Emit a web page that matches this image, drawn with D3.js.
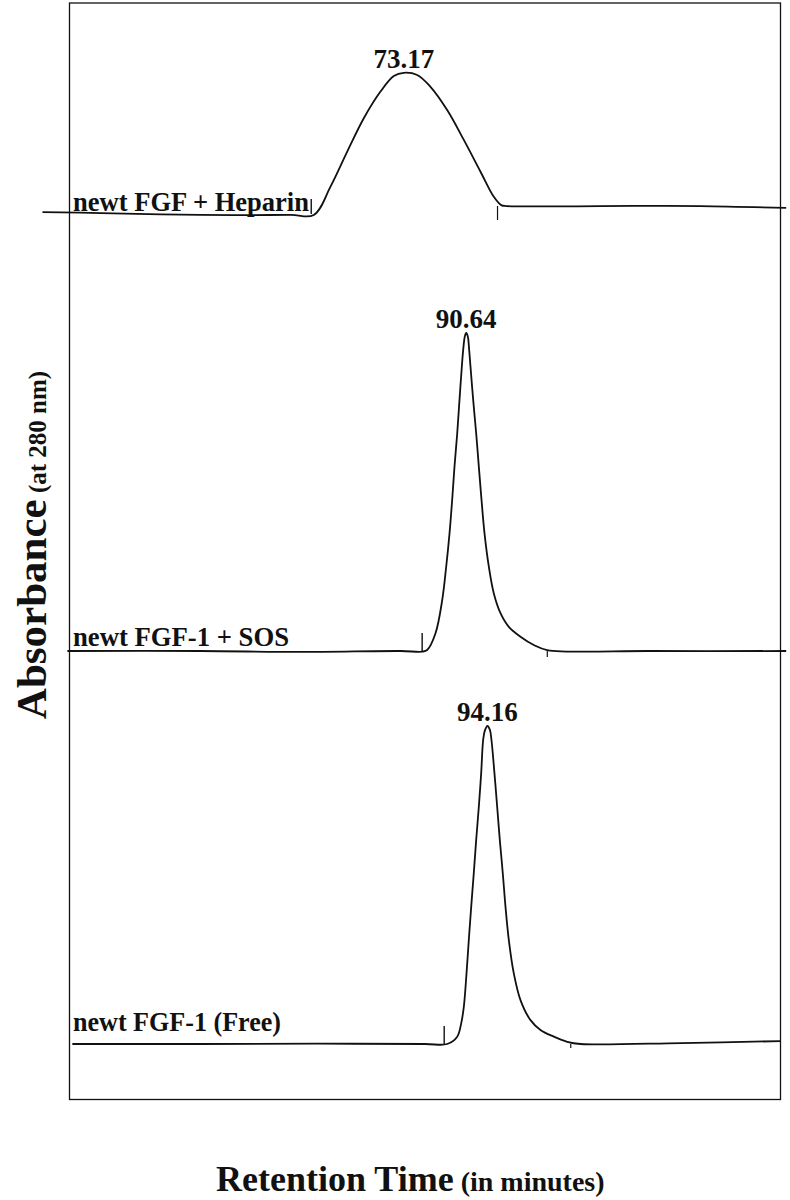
<!DOCTYPE html>
<html><head><meta charset="utf-8">
<script src="https://cdn.jsdelivr.net/npm/d3@7"></script>
<style>body{margin:0;background:#fff}svg{display:block}</style>
</head><body>
<svg id="chart" width="790" height="1200"></svg>
<script>
// ---- data (x: relative retention-time units 0..100 across the frame, y: relative absorbance) ----
const sampleNames = ["newt FGF + Heparin", "newt FGF-1 + SOS", "newt FGF-1 (Free)"];
const peakLabels = ["73.17", "90.64", "94.16"];
const yAxisTitle = "Absorbance";
const yAxisUnit = "(at 280 nm)";
const xAxisTitle = "Retention Time";
const xAxisUnit = "(in minutes)";

const heparinTime = [-3.8, 4.4, 18.4, 31.1, 34.36, 36.71, 39.06, 41.39, 43.74, 45.61, 47.02, 48.90, 50.77, 53.12, 55.46, 57.81, 59.68, 60.72, 61.5, 74.7, 88.7, 100.8];
const heparinAbs  = [0.006, 0.003, -0.003, -0.003, -0.003, 0.086, 0.196, 0.301, 0.385, 0.434, 0.444, 0.437, 0.400, 0.327, 0.233, 0.133, 0.054, 0.028, 0.025, 0.025, 0.025, 0.019];

const sosTime = [-0.3, 18.4, 32.5, 46.6, 49.6, 50.3, 51.48, 52.42, 52.98, 53.45, 53.82, 54.15, 54.53, 54.85, 55.18, 55.37, 55.60, 55.79, 56.02, 56.21, 56.40, 56.78, 57.20, 57.57, 57.95, 58.37, 58.98, 59.68, 60.62, 61.79, 63.43, 65.30, 67.19, 81.7, 100.8];
const sosAbs  = [0, 0, -0.003, 0, -0.002, 0.003, 0.056, 0.160, 0.265, 0.370, 0.475, 0.580, 0.684, 0.789, 0.894, 0.947, 0.989, 1.0, 0.989, 0.947, 0.894, 0.789, 0.684, 0.580, 0.475, 0.370, 0.265, 0.181, 0.119, 0.076, 0.045, 0.019, 0.003, 0, 0];

const freeTime = [0.4, 18.4, 35.0, 50.0, 53.12, 54.53, 55.09, 55.46, 55.84, 56.16, 56.50, 56.86, 57.20, 57.57, 57.90, 58.18, 58.44, 58.79, 59.14, 59.35, 59.77, 60.15, 60.52, 60.94, 61.32, 61.79, 62.49, 63.43, 64.84, 66.24, 68.12, 70.0, 71.87, 86.0, 100.0];
const freeAbs  = [0, 0, 0.001, 0, 0, 0.023, 0.065, 0.117, 0.222, 0.327, 0.432, 0.537, 0.642, 0.746, 0.851, 0.956, 0.987, 1.0, 0.987, 0.956, 0.851, 0.746, 0.642, 0.537, 0.432, 0.327, 0.222, 0.138, 0.075, 0.044, 0.023, 0.007, 0, 0.003, 0.009];

// injection / integration event marks (x positions)
const startMarks = [34.0, 49.6, 52.7];
const endMarks   = [60.2, 67.2, 70.5];

// ---- layout ----
const svg = d3.select("#chart");
const frame = {left: 69.5, right: 780.5, top: 3, bottom: 1099.5};
const baselines = [214, 651, 1044];
const unitPx = 318;
const ink = "#111";
const serif = "'Liberation Serif','Times New Roman',Times,serif";

const x = d3.scaleLinear().domain([0, 100]).range([frame.left, frame.right]);
const yScales = baselines.map(b => d3.scaleLinear().domain([0, 1]).range([b, b - unitPx]));

const traces = [
  {t: heparinTime, a: heparinAbs},
  {t: sosTime, a: sosAbs},
  {t: freeTime, a: freeAbs}
];

// frame
svg.append("rect")
  .attr("x", frame.left).attr("y", frame.top)
  .attr("width", frame.right - frame.left).attr("height", frame.bottom - frame.top)
  .attr("fill", "none").attr("stroke", ink).attr("stroke-width", 1.3);

const upLen = [15, 18, 18];
const downLen = [14, 6, 4];
const endOffset = [8, 0, 0];
const labelDy = [3, 5, 13];
const labelLen = [236, 216, 208];

traces.forEach((tr, i) => {
  const y = yScales[i];
  const pts = tr.t.map((t, k) => [t, tr.a[k]]);
  const line = d3.line().x(d => x(d[0])).y(d => y(d[1])).curve(d3.curveCatmullRom.alpha(0.5));
  svg.append("path").datum(pts)
    .attr("d", line).attr("fill", "none")
    .attr("stroke", ink).attr("stroke-width", 1.8)
    .attr("stroke-linejoin", "round");

  // event marks
  svg.append("line")
    .attr("x1", x(startMarks[i])).attr("x2", x(startMarks[i]))
    .attr("y1", y(0)).attr("y2", y(0) - upLen[i])
    .attr("stroke", ink).attr("stroke-width", 1.4);
  svg.append("line")
    .attr("x1", x(endMarks[i])).attr("x2", x(endMarks[i]))
    .attr("y1", y(0) - endOffset[i]).attr("y2", y(0) - endOffset[i] + downLen[i])
    .attr("stroke", ink).attr("stroke-width", 1.2);

  // sample label
  svg.append("text")
    .attr("x", 73).attr("y", y(0) - labelDy[i])
    .attr("font-family", serif).attr("font-weight", "bold").attr("font-size", 27)
    .attr("textLength", labelLen[i]).attr("lengthAdjust", "spacingAndGlyphs")
    .attr("fill", ink).text(sampleNames[i]);

  // peak label
  const kMax = d3.maxIndex(tr.a);
  svg.append("text")
    .attr("x", x(tr.t[kMax])).attr("y", y(tr.a[kMax]) - 5)
    .attr("text-anchor", "middle")
    .attr("font-family", serif).attr("font-weight", "bold").attr("font-size", 27)
    .attr("fill", ink).text(peakLabels[i]);
});

// y axis title
const yt = svg.append("text")
  .attr("transform", "translate(46,545) rotate(-90)")
  .attr("text-anchor", "middle")
  .attr("font-family", serif).attr("font-weight", "bold").attr("fill", ink);
yt.append("tspan").attr("font-size", 43).text(yAxisTitle);
yt.append("tspan").attr("font-size", 25).text(" " + yAxisUnit);

// x axis title
const xt = svg.append("text")
  .attr("x", 216).attr("y", 1191)
  .attr("font-family", serif).attr("font-weight", "bold").attr("fill", ink);
xt.append("tspan").attr("font-size", 36).text(xAxisTitle);
xt.append("tspan").attr("font-size", 28).text(" " + xAxisUnit);
</script>
</body></html>
